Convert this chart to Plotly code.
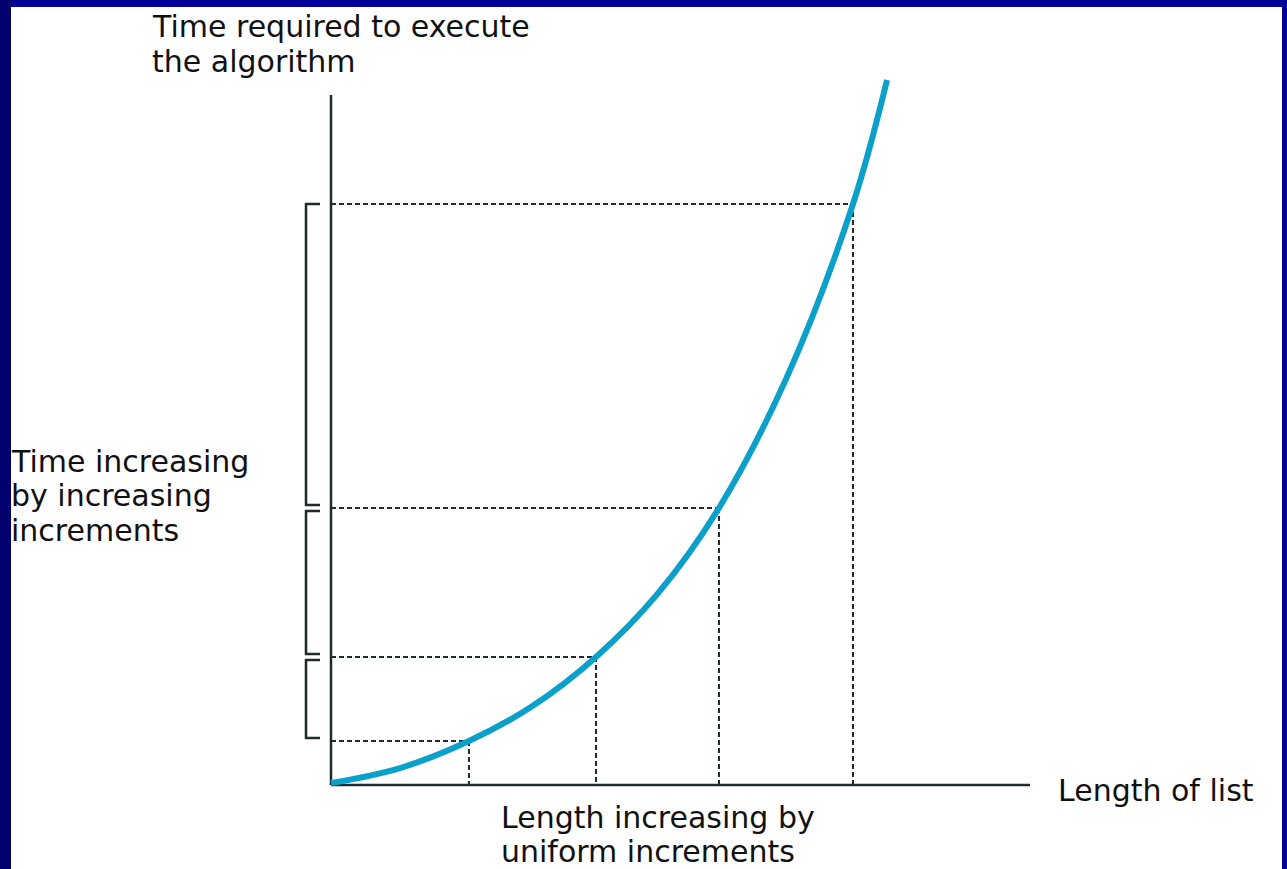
import plotly.graph_objects as go

# ---- data (x: length of list, y: time) ----
curve_x = [0.0, 0.529, 1.057, 1.544, 2.031, 2.502, 2.973, 3.487, 4.0, 4.261]
curve_y = [0.015, 0.130, 0.337, 0.605, 0.981, 1.464, 2.123, 3.111, 4.452, 5.402]

mark_x = [1.057, 2.031, 2.973, 4.0]      # lengths increasing by uniform increments
mark_y = [0.337, 0.981, 2.123, 4.452]    # corresponding times

x_axis_end = 5.356
y_axis_end = 5.287

y_title = ["Time required to execute", "the algorithm"]
x_title = ["Length of list"]
left_note = ["Time increasing", "by increasing", "increments"]
bottom_note = ["Length increasing by", "uniform increments"]

# ---- layout constants ----
W, H = 1287, 869
S = 130.5                 # pixels per unit
OX, OY = 331, 785         # pixel position of origin
FONT = "DejaVu Sans"
FS = 30
INK = "#1f2a2d"
CURVE = "#0BA0C9"

def ux(px):
    return (px - OX) / S

def uy(py):
    return (OY - py) / S

fig = go.Figure()

# axes
fig.add_trace(go.Scatter(x=[0, 0, None, 0, x_axis_end], y=[y_axis_end, 0, None, 0, 0],
                         mode="lines", line=dict(color=INK, width=2.5),
                         hoverinfo="skip", showlegend=False))

# dashed guide lines
dx, dy = [], []
for mx, my in zip(mark_x, mark_y):
    dx += [0, mx, None, mx, mx, None]
    dy += [my, my, None, my, 0, None]
fig.add_trace(go.Scatter(x=dx, y=dy, mode="lines",
                         line=dict(color=INK, width=2, dash="5px,3px"),
                         hoverinfo="skip", showlegend=False))

# brackets between consecutive time levels
gap = 3 / S
bx_line = ux(306)
bx_tick = ux(320)
bx, by = [], []
for lo, hi in zip(mark_y[:-1], mark_y[1:]):
    top = hi
    bot = lo + gap
    if hi != mark_y[-1]:
        top = hi - gap
    bx += [bx_tick, bx_line, bx_line, bx_tick, None]
    by += [top, top, bot, bot, None]
fig.add_trace(go.Scatter(x=bx, y=by, mode="lines",
                         line=dict(color=INK, width=2.5),
                         hoverinfo="skip", showlegend=False))

# curve
fig.add_trace(go.Scatter(x=curve_x, y=curve_y, mode="lines",
                         line=dict(color=CURVE, width=6, shape="spline", smoothing=1.0),
                         hoverinfo="skip", showlegend=False))

# text
def add_lines(lines, left_px, first_center_px, step=34.5):
    for i, t in enumerate(lines):
        fig.add_annotation(x=left_px / W, y=1 - (first_center_px + i * step) / H,
                           xref="paper", yref="paper", text=t, showarrow=False,
                           xanchor="left", yanchor="middle", borderpad=0,
                           font=dict(family=FONT, size=FS, color="#111111"))

add_lines(y_title, 151, 27)
add_lines(left_note, 10, 461)
add_lines(bottom_note, 500, 817)
add_lines(x_title, 1057, 790)

# slide border
fig.add_shape(type="rect", xref="paper", yref="paper", x0=0, x1=1, y0=1 - 7 / H, y1=1,
              fillcolor="#000099", line=dict(width=0), layer="above")
fig.add_shape(type="rect", xref="paper", yref="paper", x0=0, x1=11 / W, y0=0, y1=1,
              fillcolor="#00006E", line=dict(width=0), layer="above")
fig.add_shape(type="rect", xref="paper", yref="paper", x0=1282 / W, x1=1, y0=0, y1=1,
              fillcolor="#000099", line=dict(width=0), layer="above")

fig.update_layout(
    width=W, height=H,
    margin=dict(l=0, r=0, t=0, b=0),
    paper_bgcolor="white", plot_bgcolor="white",
    xaxis=dict(range=[ux(0), ux(W)], visible=False, fixedrange=True),
    yaxis=dict(range=[uy(H), uy(0)], visible=False, fixedrange=True),
    showlegend=False,
)

fig.write_html("out.html", config={"displayModeBar": False},
               post_script="document.body.style.margin='0';document.body.style.overflow='hidden';")
